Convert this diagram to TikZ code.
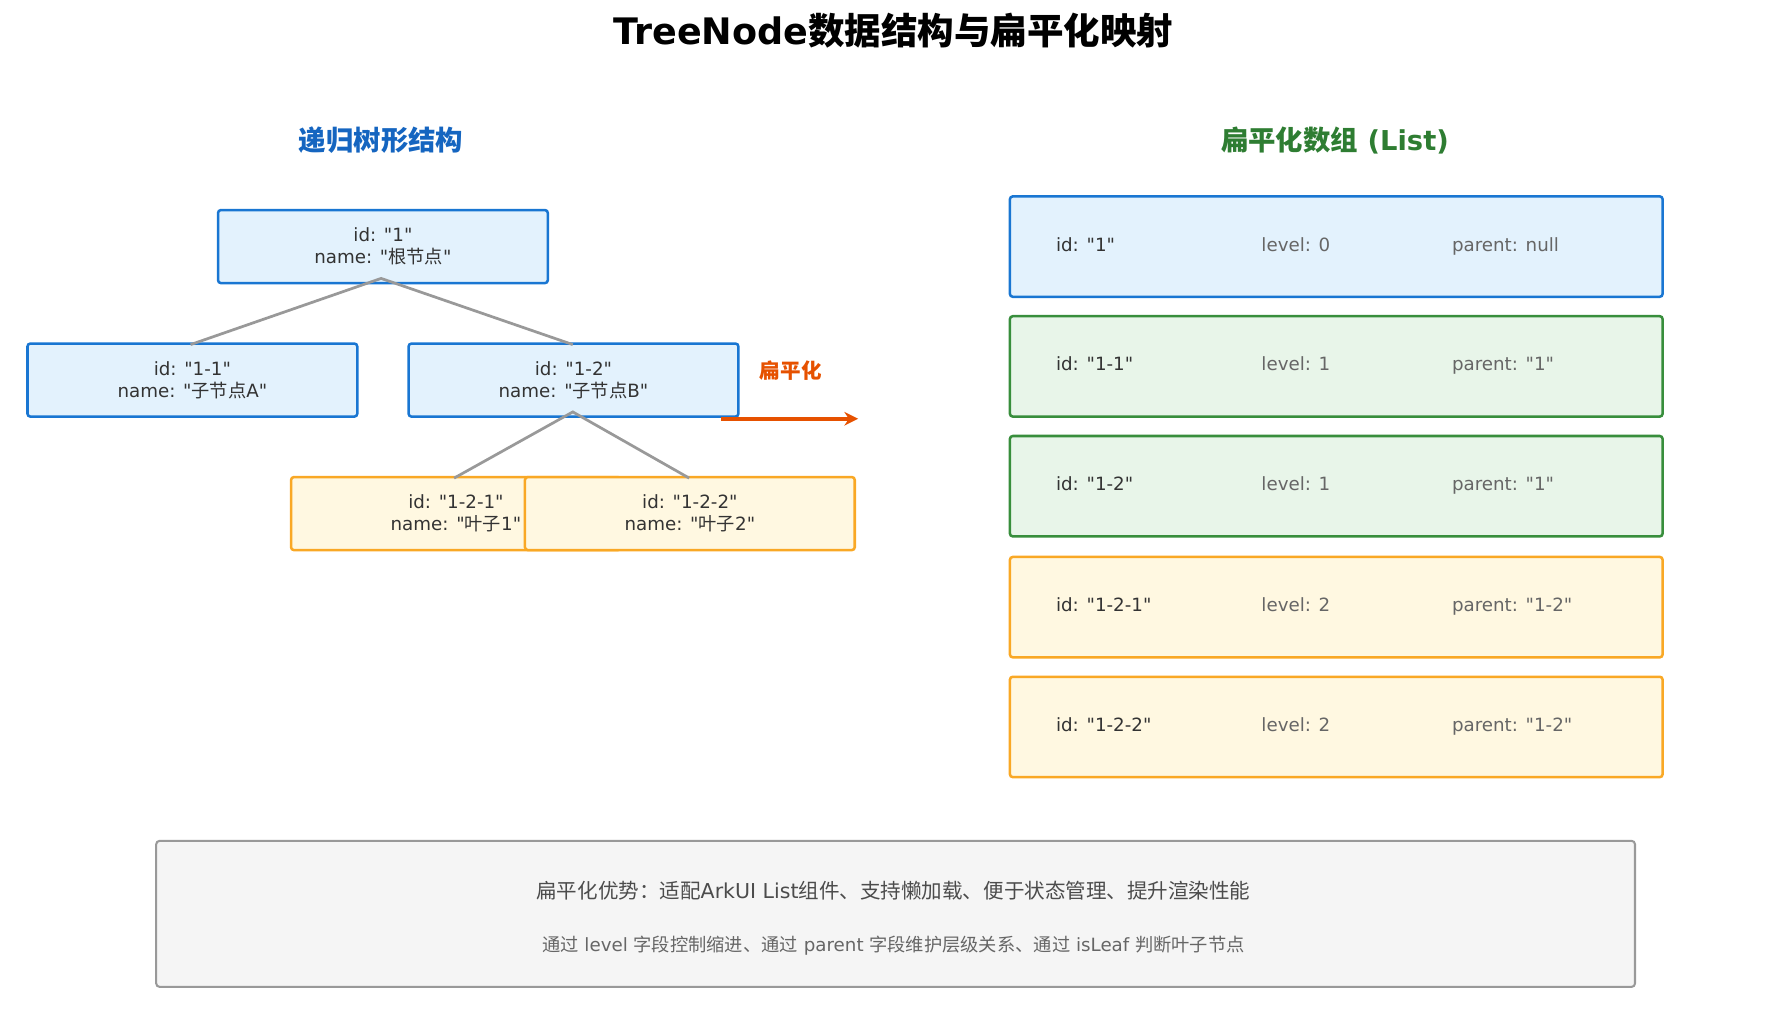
\documentclass[tikz,border=0pt]{standalone}
\usepackage{fontspec}
\usetikzlibrary{arrows.meta}
\setmainfont{DejaVu Sans}[Ligatures=TeXOff]
\newfontfamily\cjk{Noto Sans CJK SC}[Ligatures=TeXOff]
\newcommand\zh[1]{{\cjk #1}}
\definecolor{bB}{HTML}{1976D2}\definecolor{bF}{HTML}{E3F2FD}
\definecolor{gB}{HTML}{388E3C}\definecolor{gF}{HTML}{E8F5E9}
\definecolor{oB}{HTML}{F9A825}\definecolor{oF}{HTML}{FFF8E1}
\definecolor{tx}{HTML}{333333}\definecolor{tg}{HTML}{666666}
\definecolor{ar}{HTML}{E65100}\definecolor{ttl}{HTML}{1565C0}\definecolor{tgr}{HTML}{2E7D32}
\begin{document}
\begin{tikzpicture}[x=1pt,y=-1pt,
 tn/.style={draw,line width=2.2pt,rounded corners=2.5pt,minimum width=289pt,minimum height=64pt,align=center,font=\fontsize{16}{19}\selectfont,text=tx,anchor=north west,inner sep=0pt},
 blu/.style={tn,draw=bB,fill=bF},
 leaf/.style={tn,draw=oB,fill=oF},
 row/.style={draw,line width=2.2pt,rounded corners=2.5pt,minimum width=572pt,minimum height=88pt,anchor=north west},
 lnk/.style={draw=gray!80,line width=2.4pt},
 ct/.style={font=\fontsize{16}{19}\selectfont,anchor=west}]
\useasboundingbox (0,0) rectangle (1560,903);
\node (title) at (783,27) {\fontsize{32}{38}\selectfont\bfseries TreeNode\zh{数据结构与扁平化映射}};
\node[text=ttl] (lt) at (334,123) {\fontsize{24}{28}\selectfont\bfseries\zh{递归树形结构}};
\node[text=tgr] (rt) at (1170,123) {\fontsize{24}{28}\selectfont\bfseries\zh{扁平化数组} (List)};
\node[blu] (r) at (190,183) {id: "1"\\name: "\zh{根节点}"};
\node[blu] (a) at (23,300) {id: "1-1"\\name: "\zh{子节点}A"};
\node[blu] (b) at (357,300) {id: "1-2"\\name: "\zh{子节点}B"};
\node[leaf] (c) at (254,417) {id: "1-2-1"\\name: "\zh{叶子}1"};
\node[leaf] (d) at (459,417) {id: "1-2-2"\\name: "\zh{叶子}2"};
\coordinate (rb) at (334,244); \coordinate (bb) at (502,361);
\draw[lnk] (167,302) -- (rb) -- (502,302);
\draw[lnk] (398,419) -- (bb) -- (604,419);
\coordinate (a1) at (632,367); \coordinate (a2) at (752,367);
\draw[ar,line width=3.5pt,-{Stealth[length=12pt,width=12pt]}] (a1) -- (a2);
\node[text=ar] (fl) at (693,325) {\fontsize{18}{21}\selectfont\bfseries\zh{扁平化}};
\foreach \y/\bc/\fc/\i/\l/\p [count=\k] in {171/bB/bF/"1"/0/null, 276/gB/gF/"1-1"/1/"1", 381/gB/gF/"1-2"/1/"1", 487/oB/oF/"1-2-1"/2/"1-2", 592/oB/oF/"1-2-2"/2/"1-2"}{
 \node[row,draw=\bc,fill=\fc] (row\k) at (884,\y) {};
 \node[ct,text=tx,anchor=base west] (id\k) at (922,\y+49) {id: \i};
 \node[ct,text=tg,anchor=base west] (lv\k) at (1102,\y+49) {level: \l};
 \node[ct,text=tg,anchor=base west] (pa\k) at (1269,\y+49) {parent: \p};
}
\node[draw=gray!80,line width=1.8pt,fill=black!4,rounded corners=3pt,minimum width=1296pt,minimum height=128pt,anchor=north west] (note) at (136,736) {};
\node[text=black!70] (n1) at (783,781) {\fontsize{18}{21}\selectfont\zh{扁平化优势：适配}ArkUI List\zh{组件、支持懒加载、便于状态管理、提升渲染性能}};
\node[text=tg] (n2) at (783,829) {\fontsize{16}{19}\selectfont\zh{通过} level \zh{字段控制缩进、通过} parent \zh{字段维护层级关系、通过} isLeaf \zh{判断叶子节点}};
\end{tikzpicture}
\end{document}
